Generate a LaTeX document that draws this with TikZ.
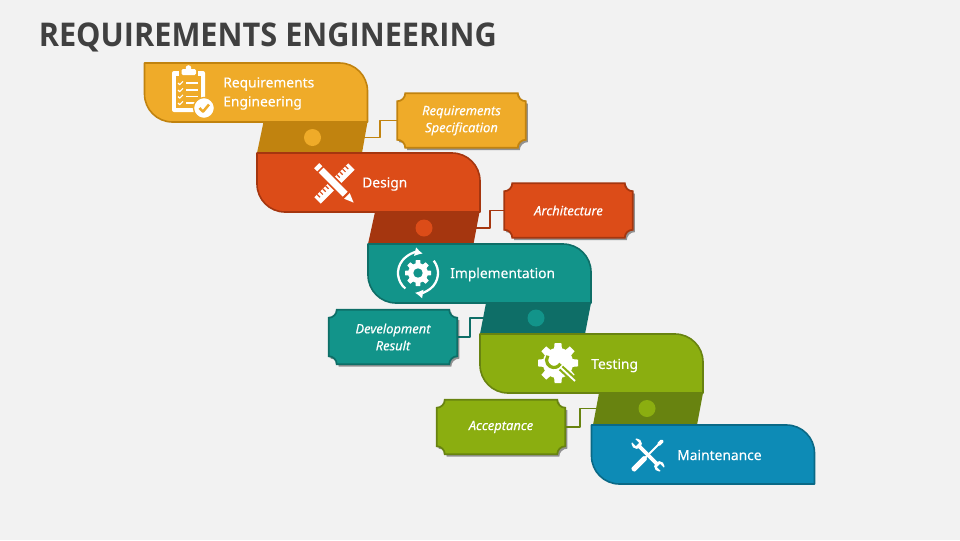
\documentclass[tikz,border=0pt]{standalone}
\usepackage{fontspec}
\setmainfont{Open Sans}
\newfontfamily\titlefont[FakeStretch=0.94]{Open Sans}
\newfontfamily\labelfont[FakeBold=0.25]{Noto Sans}
\usetikzlibrary{arrows}
\usetikzlibrary{arrows.meta}
\usetikzlibrary{calc}
\usetikzlibrary{backgrounds}
\usetikzlibrary{shadows}
\definecolor{pagebg}{HTML}{F2F2F2}
\definecolor{titlegray}{HTML}{404040}
\definecolor{amberfill}{HTML}{EFAB29}
\definecolor{amberdark}{HTML}{C1830F}
\definecolor{rustfill}{HTML}{DC4C18}
\definecolor{rustdark}{HTML}{A5360F}
\definecolor{tealfill}{HTML}{12948A}
\definecolor{tealdark}{HTML}{0E6E67}
\definecolor{olivefill}{HTML}{8BAE10}
\definecolor{olivedark}{HTML}{688310}
\definecolor{bluefill}{HTML}{0D8BB6}
\definecolor{bluedark}{HTML}{0A6986}
\tikzset{
  plaquebox/.style={inner sep=0pt,minimum width=96pt,minimum height=40.5pt,align=center,text=white,font=\labelfont\itshape\fontsize{9.7}{12.75}\selectfont},
  steplabel/.style={inner sep=0pt,anchor=west,align=left,text=white,font=\labelfont\fontsize{10.35}{14.25}\selectfont},
  bandlink/.style={line width=1.3pt},
  banddot/.style={circle,inner sep=0pt,minimum size=12.75pt},
}
% plaque with hollow corners, behind its node
\newcommand{\plaqueshape}[3]{
  \begin{scope}[on background layer]
    \draw[fill=#2,draw=#3,line width=1.3pt,drop shadow={shadow xshift=1.5pt,shadow yshift=-1.8pt,opacity=.4,fill=black}]
      ($(#1.north west)+(8,0)$) -- ($(#1.north east)+(-8,0)$) arc[start angle=180,end angle=90,radius=8]
      -- ($(#1.south east)+(0,-8)$) arc[start angle=270,end angle=180,radius=8]
      -- ($(#1.south west)+(8,0)$) arc[start angle=0,end angle=-90,radius=8]
      -- ($(#1.north west)+(0,8)$) arc[start angle=90,end angle=0,radius=8] -- cycle;
  \end{scope}
}
% main step at its top left corner
\newcommand{\stepshape}[3]{
  \draw[shift={(#1)},fill=#2,draw=#3,line width=1.2pt]
    (0,0) -- (195,0) arc[start angle=-90,end angle=0,radius=28] -- (223,59) -- (28,59) arc[start angle=90,end angle=180,radius=28] -- cycle;
}
\newcommand{\gearicon}[3]{
  \begin{scope}[shift={(#1)}]
    \foreach \a in {0,45,...,315}
      \fill[white,rotate=\a] (-.26*#2,0) -- (-.17*#2,-#2) -- (.17*#2,-#2) -- (.26*#2,0) -- cycle;
    \fill[white] (0,0) circle[radius=.76*#2];
    \fill[#3] (0,0) circle[radius=.36*#2];
  \end{scope}
}
\begin{document}
\begin{tikzpicture}[x=0.75pt,y=-0.75pt,>=latex',line join=bevel]
        %
        \useasboundingbox (0,0) rectangle (960,540);
        \begin{scope}[on background layer]
          \fill[pagebg] (0,0) rectangle (960,540);
        \end{scope}
        \node[anchor=base west,inner sep=0pt,text=titlegray,font=\titlefont\bfseries\fontsize{24.5}{30}\selectfont] (title) at (38.5,46) {REQUIREMENTS ENGINEERING};
        %
        \node[plaquebox] (reqspec) at (461.5,120.5) {Requirements\\Specification};
        \node[plaquebox] (architecture) at (568.5,210.5) {Architecture};
        \node[plaquebox] (devresult) at (393,337) {Development\\Result};
        \node[plaquebox] (acceptance) at (501,427) {Acceptance};
        \plaqueshape{reqspec}{amberfill}{amberdark}
        \plaqueshape{architecture}{rustfill}{rustdark}
        \plaqueshape{devresult}{tealfill}{tealdark}
        \plaqueshape{acceptance}{olivefill}{olivedark}
        %
        \coordinate (band1) at (312.5,137.5);
        \coordinate (band2) at (424,228);
        \coordinate (band3) at (536,318);
        \coordinate (band4) at (647,408.5);
        \draw[bandlink,amberdark] (band1) -- (380,137.5) |- (reqspec.west);
        \draw[bandlink,rustdark] (band2) -- (490,228) |- (architecture.west);
        \draw[bandlink,tealdark] (devresult.east) -- (470,337) |- (band3);
        \draw[bandlink,olivedark] (acceptance.east) -- (580,427) |- (band4);
        %
        \fill[amberdark] (263.5,122) -- (367.5,122) -- (362,153) -- (257,153) -- cycle;
        \fill[rustdark] (375,212) -- (479.5,212) -- (473.5,244) -- (368,244) -- cycle;
        \fill[tealdark] (486,303) -- (591,303) -- (585,334) -- (480,334) -- cycle;
        \fill[olivedark] (599,393) -- (703,393) -- (697,425) -- (593,425) -- cycle;
        \node[banddot,fill=amberfill] (dot1) at (band1) {};
        \node[banddot,fill=rustfill] (dot2) at (band2) {};
        \node[banddot,fill=tealfill] (dot3) at (band3) {};
        \node[banddot,fill=olivefill] (dot4) at (band4) {};
        %
        \stepshape{144.5,63}{amberfill}{amberdark}
        \stepshape{257,153}{rustfill}{rustdark}
        \stepshape{368,244}{tealfill}{tealdark}
        \stepshape{480,334}{olivefill}{olivedark}
        \stepshape{591.5,425}{bluefill}{bluedark}
        %
        \node[steplabel] (reqeng) at (223,93.5) {Requirements\\Engineering};
        \node[steplabel] (design) at (362,184) {Design};
        \node[steplabel] (implementation) at (450,274.5) {Implementation};
        \node[steplabel] (testing) at (591,365.5) {Testing};
        \node[steplabel] (maintenance) at (677,455) {Maintenance};
        %
        % clipboard
        \fill[white,rounded corners=1.5pt] (172,71) rectangle (205,112);
        \fill[amberfill] (176,76) rectangle (201,108);
        \fill[amberfill] (179,71) rectangle (198,76);
        \fill[white,rounded corners=1pt] (181.5,69) rectangle (196,75);
        \fill[white] (188.5,68) circle[radius=2.8];
        \foreach \y in {83,90,96.5,103} {
          \draw[white,line width=.8pt] (178,\y) -- (179.7,\y+1.7) -- (183,\y-1.7);
          \draw[white,line width=1.1pt] (186,\y) -- (198,\y);
        }
        \fill[white,draw=amberfill,line width=1pt] (204,108) circle[radius=10.5];
        \draw[amberfill,line width=1.9pt] (199.5,108) -- (203,111.7) -- (209,104.5);
        %
        % ruler and pencil
        \begin{scope}[shift={(334.5,183.5)},rotate=45]
          \fill[white] (-24,-4.5) rectangle (24,4.5);
          \foreach \x in {-20,-16,-12,-8,8,12,16,20}
            \draw[rustfill,line width=.9pt] (\x,-4.5) -- (\x,-.5);
          \fill[white,draw=rustfill,line width=1.2pt] (-4.5,-20) rectangle (4.5,16);
          \fill[white,draw=rustfill,line width=1pt] (-4.5,-26) rectangle (4.5,-20);
          \fill[white] (-4,17.5) -- (4,17.5) -- (0,27) -- cycle;
        \end{scope}
        %
        % gear with turning arrows
        \gearicon{418,273}{13}{tealfill}
        \draw[white,line width=1.7pt,-{Latex[length=6pt,width=7pt]}] (418,273) ++(129:20) arc[start angle=129,end angle=284,radius=20];
        \draw[white,line width=1.7pt,-{Latex[length=6pt,width=7pt]}] (418,273) ++(-38:20) arc[start angle=-38,end angle=99,radius=20];
        %
        % gear with spanner
        \gearicon{558,363}{20}{white}
        \draw[olivefill,line width=2.4pt] (554,360) ++(30:7.5) arc[start angle=30,end angle=215,radius=7.5];
        \draw[olivefill,line width=4.6pt] (561,368) -- (573,379);
        \draw[white,line width=1.4pt] (560,367) -- (575,381);
        %
        % spanner and screwdriver
        \begin{scope}[shift={(648,455)},rotate=45]
          \fill[white] (-1.9,-15) rectangle (1.9,15);
          \fill[white] (0,-16) circle[radius=5.2];
          \fill[white] (0,16) circle[radius=5.2];
          \fill[bluefill] (-2.2,-15) rectangle (2.2,-23);
          \fill[bluefill] (-2.2,15) rectangle (2.2,23);
          \fill[white,rounded corners=1.5pt] (-22,-2.6) rectangle (-3,2.6);
          \fill[white] (-4,-1) rectangle (15,1);
          \fill[white,rounded corners=1pt] (14,-1.9) rectangle (21,1.9);
        \end{scope}
        %
    \end{tikzpicture}
\end{document}
